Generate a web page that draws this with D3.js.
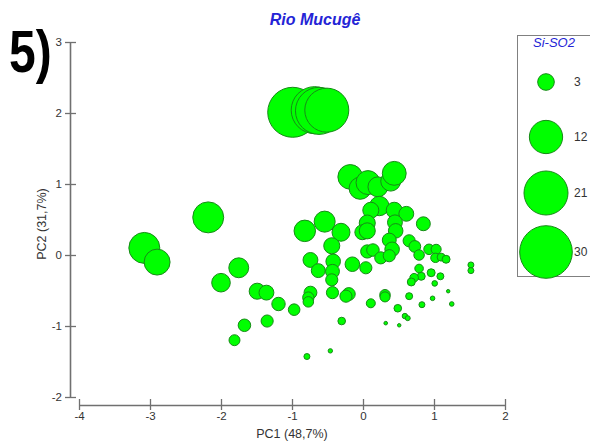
<!DOCTYPE html>
<html>
<head>
<meta charset="utf-8">
<script src="https://cdn.jsdelivr.net/npm/d3@7"></script>
<style>
  html, body { margin: 0; padding: 0; background: #fff; }
  svg { display: block; font-family: Arial, "Liberation Sans", sans-serif; }
</style>
</head>
<body>
<svg id="chart" width="590" height="443"></svg>
<script>
// PCA scores of the Rio Mucugê samples, bubble size = Si-SO2
const pc1 = [
  -0.99, -0.68, -0.62, -0.51, -2.18, -3.08, -2.90, -0.18, -0.04, 0.07,
  0.21, 0.39, 0.44, 0.23, 0.11, 0.44, 0.61, 0.06, -0.01, 0.06,
  0.45, 0.46, 0.85, -0.82, -0.54, -0.31, -0.44, 0.37, 0.41, 0.06,
  0.14, 0.25, 0.37, -0.74, -0.63, -0.42, -0.43, -0.44, -0.15, 0.04,
  0.65, 0.73, 0.79, 0.93, 1.03, 1.02, 1.10, 1.17, 1.52, 1.52,
  0.79, 0.96, 1.09, 0.82, 0.72, 0.68, 1.01, 1.20, -0.43, -0.74,
  -0.77, -0.77, -0.20, -0.24, 0.31, 0.31, 0.65, 0.11, 0.49, 0.83,
  0.98, 1.25, 0.59, 0.63, 0.32, 0.51, -0.30, -0.46, -0.79, -2.00,
  -1.75, -1.49, -1.36, -1.19, -0.97, -1.35, -1.67, -1.81
];
const pc2 = [
  2.01, 2.04, 2.03, 2.04, 0.53, 0.10, -0.10, 1.10, 0.94, 1.02,
  0.96, 1.04, 1.15, 0.69, 0.63, 0.63, 0.58, 0.45, 0.32, 0.34,
  0.46, 0.34, 0.44, 0.34, 0.47, 0.32, 0.13, 0.21, 0.08, 0.05,
  0.07, -0.04, -0.01, -0.07, -0.22, -0.09, -0.23, -0.35, -0.13, -0.18,
  0.20, 0.12, 0.00, 0.08, 0.08, -0.04, -0.03, -0.06, -0.14, -0.22,
  -0.19, -0.25, -0.30, -0.30, -0.32, -0.38, -0.40, -0.51, -0.53, -0.53,
  -0.60, -0.66, -0.55, -0.58, -0.56, -0.59, -0.58, -0.68, -0.75, -0.70,
  -0.61, -0.69, -0.86, -0.89, -0.96, -0.99, -0.93, -1.35, -1.43, -0.39,
  -0.18, -0.51, -0.53, -0.69, -0.77, -0.93, -0.99, -1.20
];
const siso2 = [
  27.1, 24.0, 24.0, 21.0, 10.4, 10.4, 7.3, 6.6, 5.3, 6.2,
  4.3, 4.3, 6.2, 4.1, 2.8, 2.8, 2.4, 2.8, 2.4, 2.8,
  2.4, 2.3, 2.1, 5.0, 4.8, 3.5, 2.8, 2.1, 2.3, 1.9,
  1.7, 1.6, 1.6, 2.4, 2.1, 2.3, 2.1, 1.6, 2.3, 1.6,
  1.6, 1.5, 1.2, 1.2, 1.1, 0.96, 0.69, 0.69, 0.39, 0.39,
  0.8, 0.69, 0.53, 0.69, 0.8, 0.69, 0.34, 0.13, 1.6, 1.8,
  1.4, 1.2, 1.8, 1.6, 1.2, 1.1, 0.53, 0.88, 0.63, 0.39,
  0.23, 0.23, 0.32, 0.27, 0.14, 0.13, 0.63, 0.21, 0.39, 3.75,
  4.3, 2.8, 2.4, 1.95, 1.46, 1.6, 1.7, 1.3
];
const xTicks = [-4, -3, -2, -1, 0, 1, 2];
const yTicks = [-2, -1, 0, 1, 2, 3];
const legendValues = [3, 12, 21, 30];

const svg = d3.select("#chart");
const axisColor = "#707070";
const labelColor = "#333";
const fillColor = "#00ff00";
const strokeColor = "#178a17";

const x = d3.scaleLinear().domain([-4, 2]).range([79, 505]);
const y = d3.scaleLinear().domain([-2, 3]).range([397, 42]);
const r = d3.scaleSqrt().domain([0, 30]).range([0, 26.3]);

// panel number (tall, slightly condensed)
svg.append("text")
  .attr("transform", "translate(9,72) scale(0.8,1)")
  .attr("font-size", 60).attr("font-weight", "bold")
  .attr("fill", "#000")
  .text("5)");

// title
svg.append("text")
  .attr("x", 315).attr("y", 25)
  .attr("text-anchor", "middle")
  .attr("font-size", 16).attr("font-weight", "bold").attr("font-style", "italic")
  .attr("fill", "#2424d6")
  .text("Rio Mucugê");

// y axis (offset to the left of the plotting area)
const yAxis = svg.append("g")
  .attr("transform", "translate(70,0)")
  .call(d3.axisLeft(y).tickValues(yTicks).tickSizeInner(5).tickSizeOuter(0).tickPadding(3)
    .tickFormat(d => d < 0 ? "-" + Math.abs(d) : d));
yAxis.select(".domain").attr("stroke", axisColor).attr("stroke-width", 1.6);
yAxis.selectAll(".tick line").attr("x1", -5).attr("x2", 6)
  .attr("stroke", axisColor).attr("stroke-width", 1.3);
yAxis.selectAll(".tick text").attr("fill", labelColor)
  .attr("font-size", 11.5).attr("font-family", "Arial, 'Liberation Sans', sans-serif");

// x axis (offset below the plotting area)
const xAxis = svg.append("g")
  .attr("transform", "translate(0,405)")
  .call(d3.axisBottom(x).tickValues(xTicks).tickSizeInner(5).tickSizeOuter(0).tickPadding(2)
    .tickFormat(d => d < 0 ? "-" + Math.abs(d) : d));
xAxis.select(".domain").attr("stroke", axisColor).attr("stroke-width", 1.6);
xAxis.selectAll(".tick line").attr("y1", -6).attr("y2", 5)
  .attr("stroke", axisColor).attr("stroke-width", 1.3);
xAxis.selectAll(".tick text").attr("fill", labelColor)
  .attr("font-size", 11.5).attr("font-family", "Arial, 'Liberation Sans', sans-serif");

// axis titles
svg.append("text")
  .attr("x", 292).attr("y", 438)
  .attr("text-anchor", "middle")
  .attr("font-size", 12.5).attr("fill", labelColor)
  .text("PC1 (48,7%)");
svg.append("text")
  .attr("transform", "translate(46,224) rotate(-90)")
  .attr("text-anchor", "middle")
  .attr("font-size", 12.5).attr("fill", labelColor)
  .text("PC2 (31,7%)");

// bubbles
const points = pc1.map((d, i) => ({ pc1: d, pc2: pc2[i], v: siso2[i] }));
svg.append("g")
  .selectAll("circle")
  .data(points)
  .join("circle")
  .attr("cx", d => x(d.pc1))
  .attr("cy", d => y(d.pc2))
  .attr("r", d => r(d.v))
  .attr("fill", fillColor)
  .attr("stroke", strokeColor)
  .attr("stroke-width", 1);

// size legend
const legend = svg.append("g");
legend.append("rect")
  .attr("x", 517.5).attr("y", 35.5)
  .attr("width", 90).attr("height", 241)
  .attr("fill", "#fff").attr("stroke", "#808080").attr("stroke-width", 1);
legend.append("text")
  .attr("x", 554).attr("y", 47)
  .attr("text-anchor", "middle")
  .attr("font-size", 13).attr("font-style", "italic")
  .attr("fill", "#2424d6")
  .text("Si-SO2");
const legendY = [82, 137, 193, 252];
legendValues.forEach((v, i) => {
  legend.append("circle")
    .attr("cx", 546).attr("cy", legendY[i])
    .attr("r", r(v))
    .attr("fill", fillColor).attr("stroke", strokeColor).attr("stroke-width", 1);
  legend.append("text")
    .attr("x", 574).attr("y", legendY[i] + 4)
    .attr("font-size", 12).attr("fill", labelColor)
    .text(v);
});
</script>
</body>
</html>
